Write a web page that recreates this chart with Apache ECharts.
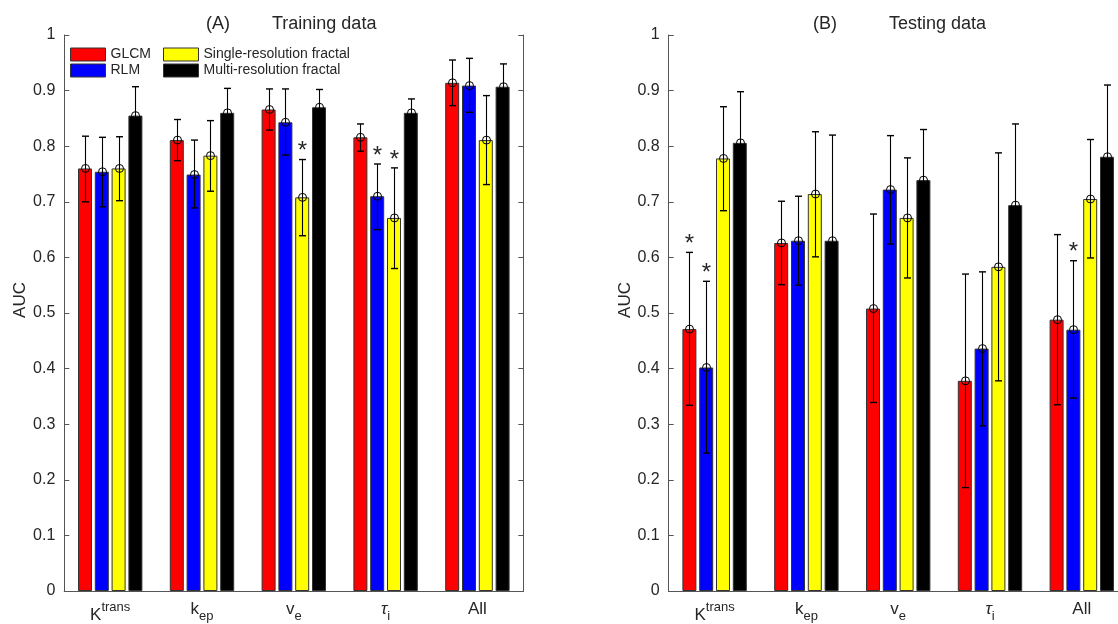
<!DOCTYPE html>
<html><head><meta charset="utf-8">
<script src="https://cdn.jsdelivr.net/npm/echarts@6/dist/echarts.min.js"></script>
<style>html,body{margin:0;padding:0;background:#fff;overflow:hidden}#c{width:1140px;height:624px}</style>
</head><body><div id="c"></div>
<script>
// ---------- DATA ----------
const categories = ['Ktrans', 'kep', 've', 'taui', 'All'];
const seriesNames = ['GLCM', 'RLM', 'Single-resolution fractal', 'Multi-resolution fractal'];
const yTickValues = [0, 0.1, 0.2, 0.3, 0.4, 0.5, 0.6, 0.7, 0.8, 0.9, 1];

// (A) Training data
const trainGLCM      = [0.760, 0.811, 0.866, 0.816, 0.914];
const trainGLCMLow   = [0.700, 0.774, 0.829, 0.791, 0.873];
const trainGLCMHigh  = [0.818, 0.848, 0.903, 0.840, 0.955];
const trainRLM       = [0.754, 0.749, 0.843, 0.710, 0.909];
const trainRLMLow    = [0.691, 0.689, 0.784, 0.650, 0.861];
const trainRLMHigh   = [0.816, 0.811, 0.903, 0.768, 0.958];
const trainSingle    = [0.760, 0.783, 0.708, 0.671, 0.811];
const trainSingleLow = [0.702, 0.719, 0.639, 0.580, 0.731];
const trainSingleHigh= [0.817, 0.846, 0.776, 0.761, 0.891];
const trainMulti     = [0.855, 0.860, 0.870, 0.860, 0.907];
const trainMultiLow  = [0.803, 0.816, 0.838, 0.835, 0.866];
const trainMultiHigh = [0.907, 0.904, 0.902, 0.885, 0.948];
const trainStars     = [[2, 2], [3, 1], [3, 2]];   // [category, series]

// (B) Testing data
const testGLCM       = [0.471, 0.626, 0.508, 0.378, 0.488];
const testGLCMLow    = [0.334, 0.551, 0.339, 0.186, 0.335];
const testGLCMHigh   = [0.609, 0.701, 0.678, 0.570, 0.641];
const testRLM        = [0.402, 0.630, 0.722, 0.436, 0.470];
const testRLMLow     = [0.248, 0.550, 0.624, 0.297, 0.347];
const testRLMHigh    = [0.557, 0.710, 0.819, 0.574, 0.594];
const testSingle     = [0.778, 0.714, 0.671, 0.583, 0.705];
const testSingleLow  = [0.684, 0.601, 0.563, 0.378, 0.599];
const testSingleHigh = [0.871, 0.826, 0.779, 0.788, 0.812];
const testMulti      = [0.806, 0.630, 0.739, 0.694, 0.781];
const testMultiLow   = [0.714, 0.440, 0.648, 0.548, 0.652];
const testMultiHigh  = [0.898, 0.820, 0.830, 0.840, 0.910];
const testStars      = [[0, 0], [0, 1], [4, 1]];

// ---------- STYLE ----------
const FONT = '"Liberation Sans", Arial, Helvetica, sans-serif';
const TXT = '#262626';
const AXC = '#555555';
const colors = ['#ff0000', '#0000ff', '#ffff00', '#000000'];
const BAR_W = 14, BAR_GAP = 0.2, PITCH = BAR_W * (1 + BAR_GAP);

const rich = {
  a:   { fontSize: 17, lineHeight: 20, verticalAlign: 'top', color: TXT, fontFamily: FONT },
  k:   { fontSize: 17, lineHeight: 20, padding: [6, 0, 0, 0], verticalAlign: 'top', color: TXT, fontFamily: FONT },
  sup: { fontSize: 13, lineHeight: 14, verticalAlign: 'top', color: TXT, fontFamily: FONT },
  t:   { fontSize: 17, lineHeight: 20, verticalAlign: 'top', color: TXT, fontFamily: FONT, fontStyle: 'italic' },
  sub: { fontSize: 13, lineHeight: 14, padding: [9, 0, 0, 0], verticalAlign: 'top', color: TXT, fontFamily: FONT }
};
function catLabel(v) {
  if (v === 'Ktrans') return '{k|K}{sup|trans}';
  if (v === 'kep') return '{a|k}{sub|ep}';
  if (v === 've') return '{a|v}{sub|e}';
  if (v === 'taui') return '{t|\u03c4}{sub|i}';
  return '{a|' + v + '}';
}

const grids = [
  { left: 64.3, top: 35, width: 459, height: 560 },
  { left: 668.7, top: 35, width: 459, height: 560 }
];

const xAxes = [], yAxes = [];
grids.forEach((g, gi) => {
  xAxes.push({
    type: 'category', gridIndex: gi, data: categories, position: 'bottom',
    axisLine: { lineStyle: { color: AXC, width: 1 } },
    axisTick: { inside: true, alignWithLabel: true, length: 5, lineStyle: { color: AXC } },
    axisLabel: { margin: 10, formatter: catLabel, rich: rich, interval: 0 },
    splitLine: { show: false }
  });
  xAxes.push({
    type: 'category', gridIndex: gi, data: categories, position: 'top',
    axisLine: { lineStyle: { color: AXC, width: 1 } },
    axisTick: { inside: true, alignWithLabel: true, length: 5, lineStyle: { color: AXC } },
    axisLabel: { show: false }, splitLine: { show: false }
  });
  yAxes.push({
    type: 'value', gridIndex: gi, min: 0, max: 1, interval: 0.1, position: 'left',
    axisLine: { show: true, lineStyle: { color: AXC, width: 1 } },
    axisTick: { show: true, inside: true, length: 5, lineStyle: { color: AXC } },
    axisLabel: { margin: 9, fontSize: 16, color: TXT, fontFamily: FONT,
      formatter: v => String(parseFloat(v.toFixed(1))) },
    splitLine: { show: false }
  });
  yAxes.push({
    type: 'value', gridIndex: gi, min: 0, max: 1, interval: 0.1, position: 'right',
    axisLine: { show: true, lineStyle: { color: AXC, width: 1 } },
    axisTick: { show: true, inside: true, length: 5, lineStyle: { color: AXC } },
    axisLabel: { show: false }, splitLine: { show: false }
  });
});

function renderErr(params, api) {
  const cat = api.value(0), s = api.value(1), v = api.value(2),
        lo = api.value(3), hi = api.value(4), star = api.value(5);
  const c = api.coord([cat, v]);
  const cl = api.coord([cat, lo]);
  const ch = api.coord([cat, hi]);
  const x = Math.round(c[0] + (s - 1.5) * PITCH) + 0.5;
  const st = { stroke: '#000', lineWidth: 1.1, fill: null };
  const kids = [
    { type: 'line', shape: { x1: x, y1: cl[1], x2: x, y2: ch[1] }, style: st },
    { type: 'line', shape: { x1: x - 3.5, y1: cl[1], x2: x + 3.5, y2: cl[1] }, style: { stroke: '#000', lineWidth: 1.4 } },
    { type: 'line', shape: { x1: x - 3.5, y1: ch[1], x2: x + 3.5, y2: ch[1] }, style: { stroke: '#000', lineWidth: 1.4 } },
    { type: 'circle', shape: { cx: x, cy: c[1], r: 4 }, style: { stroke: '#000', lineWidth: 1, fill: 'none' } }
  ];
  if (star) {
    kids.push({ type: 'text', style: { text: '*', x: x, y: ch[1] - 8, align: 'center', verticalAlign: 'middle',
      fontSize: 24, fontFamily: FONT, fill: TXT } });
  }
  return { type: 'group', children: kids };
}

function buildPanel(gi, means, lows, highs, stars) {
  const out = [];
  means.forEach((m, s) => {
    out.push({
      type: 'bar', name: seriesNames[s], xAxisIndex: gi * 2, yAxisIndex: gi * 2,
      data: m, barWidth: BAR_W, barGap: (BAR_GAP * 100) + '%',
      itemStyle: { color: colors[s], borderColor: '#333', borderWidth: 1 },
      silent: true, animation: false
    });
  });
  const errData = [];
  means.forEach((m, s) => {
    m.forEach((v, ci) => {
      const isStar = stars.some(p => p[0] === ci && p[1] === s) ? 1 : 0;
      errData.push([ci, s, v, lows[s][ci], highs[s][ci], isStar]);
    });
  });
  out.push({
    type: 'custom', xAxisIndex: gi * 2, yAxisIndex: gi * 2, renderItem: renderErr,
    data: errData, encode: { x: 0, y: [2, 3, 4] }, z: 5, silent: true, animation: false,
    clip: false
  });
  return out;
}

const series = [].concat(
  buildPanel(0, [trainGLCM, trainRLM, trainSingle, trainMulti],
    [trainGLCMLow, trainRLMLow, trainSingleLow, trainMultiLow],
    [trainGLCMHigh, trainRLMHigh, trainSingleHigh, trainMultiHigh], trainStars),
  buildPanel(1, [testGLCM, testRLM, testSingle, testMulti],
    [testGLCMLow, testRLMLow, testSingleLow, testMultiLow],
    [testGLCMHigh, testRLMHigh, testSingleHigh, testMultiHigh], testStars)
);

const legendCommon = {
  orient: 'vertical', itemWidth: 35, itemHeight: 13, itemGap: 1, icon: 'rect',
  selectedMode: false, padding: 0,
  textStyle: { fontSize: 14, color: TXT, fontFamily: FONT, lineHeight: 15 },
  itemStyle: { borderColor: '#333', borderWidth: 1 }
};

function txt(text, x, y, size, extra) {
  return Object.assign({ type: 'text', x: x, y: y, silent: true,
    style: { text: text, fontSize: size, fontFamily: FONT, fill: TXT, align: 'left', verticalAlign: 'middle' } }, extra || {});
}

const option = {
  backgroundColor: '#fff',
  animation: false,
  grid: grids,
  xAxis: xAxes,
  yAxis: yAxes,
  legend: [
    Object.assign({ left: 70, top: 47, data: [seriesNames[0], seriesNames[1]] }, legendCommon),
    Object.assign({ left: 163, top: 47, data: [seriesNames[2], seriesNames[3]] }, legendCommon)
  ],
  graphic: [
    txt('(A)', 206, 24, 18),
    txt('Training data', 272, 24, 18),
    txt('(B)', 813, 24, 18),
    txt('Testing data', 889, 24, 18),
    { type: 'text', x: 20, y: 300, rotation: Math.PI / 2, silent: true,
      style: { text: 'AUC', fontSize: 17, fontFamily: FONT, fill: TXT, align: 'center', verticalAlign: 'middle' } },
    { type: 'text', x: 625, y: 300, rotation: Math.PI / 2, silent: true,
      style: { text: 'AUC', fontSize: 17, fontFamily: FONT, fill: TXT, align: 'center', verticalAlign: 'middle' } }
  ],
  series: series
};

const chart = echarts.init(document.getElementById('c'), null, { renderer: 'canvas' });
chart.setOption(option);
</script>
</body></html>
